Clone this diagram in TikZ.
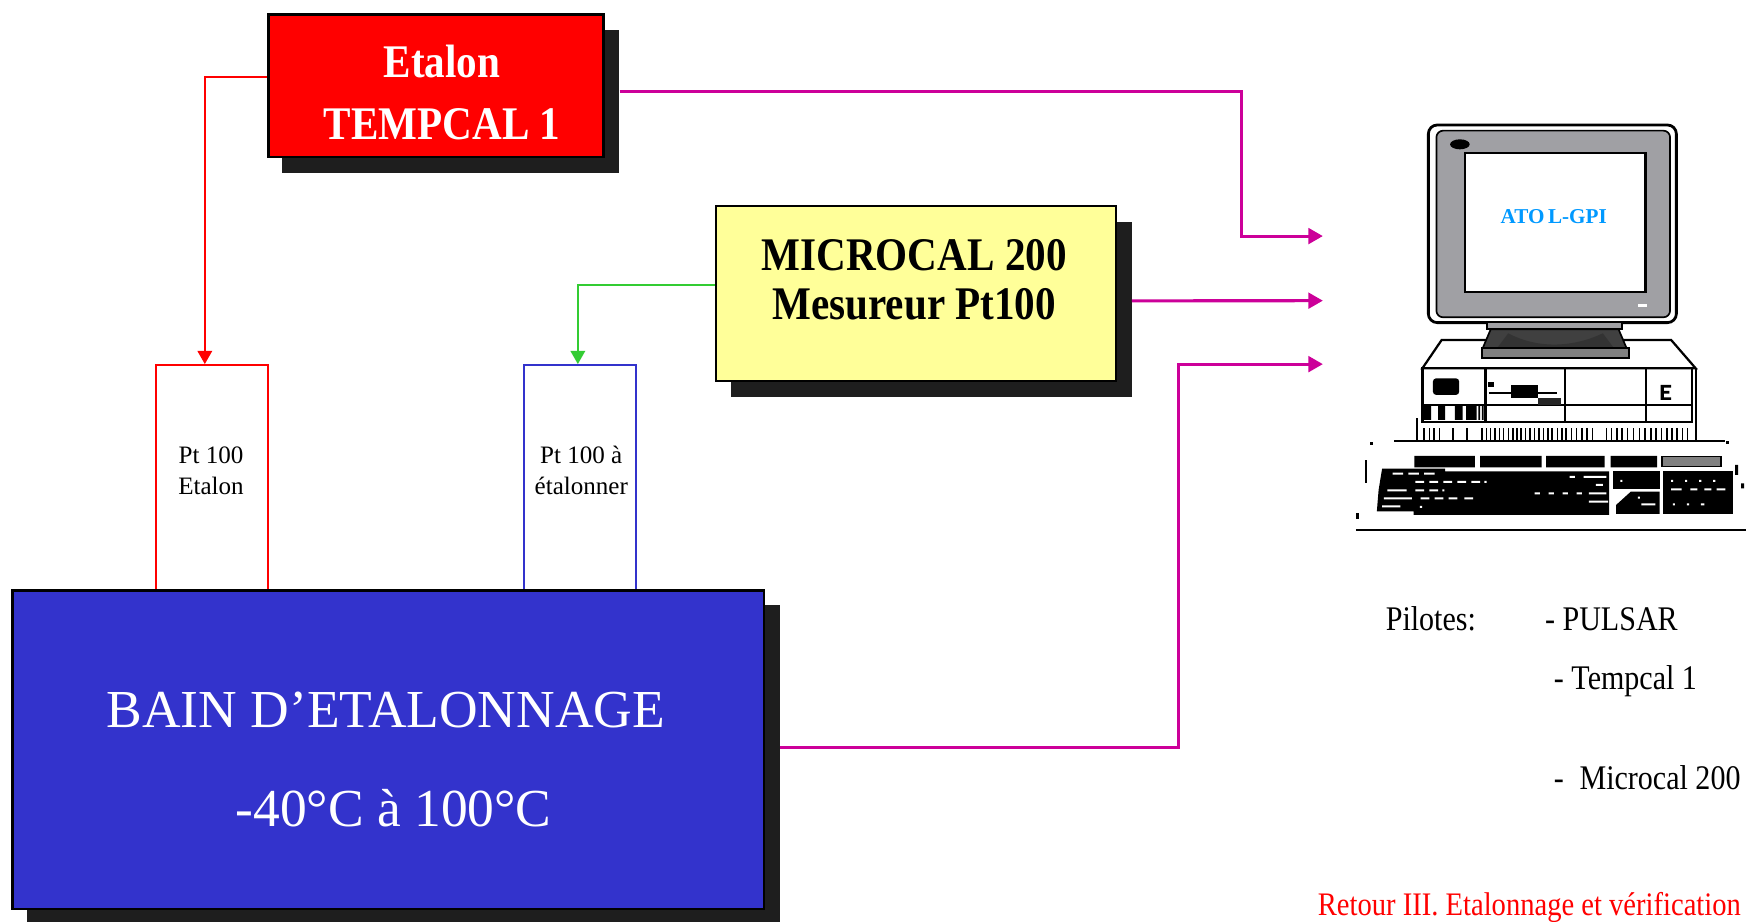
\documentclass[tikz,border=0pt]{standalone}
\usepackage{fontspec}
\setmainfont{Liberation Serif}
\newfontfamily\condserif[FakeStretch=0.88]{Liberation Serif}
\newfontfamily\nsserif[FakeStretch=0.87]{Liberation Serif}
\usetikzlibrary{arrows.meta}
\definecolor{shadowgray}{HTML}{1E1E1E}
\definecolor{magentaline}{HTML}{CC0099}
\definecolor{greenline}{HTML}{33CC33}
\definecolor{bainblue}{HTML}{3333CC}
\definecolor{paleyellow}{HTML}{FFFF99}
\definecolor{screenblue}{HTML}{0099FF}
\definecolor{monitorgray}{HTML}{A0A0A4}
\definecolor{standdark}{HTML}{404040}
\begin{document}
\begin{tikzpicture}[x=1pt,y=-1pt,
  box/.style={draw=black, line width=2.2pt, anchor=north west, inner sep=0pt},
  shadowbox/.style={fill=shadowgray, draw=none, anchor=north west, inner sep=0pt},
  probe/.style={line width=1.9pt, anchor=north west, inner sep=0pt, fill=white},
  bigbold/.style={anchor=base, font=\condserif\bfseries\fontsize{42}{42}\selectfont},
  bigreg/.style={anchor=base, text=white, font=\fontsize{48}{48}\selectfont},
  probetext/.style={anchor=base, font=\fontsize{22.5}{22.5}\selectfont},
  sidetext/.style={anchor=base west, font=\nsserif\fontsize{31}{31}\selectfont},
  link/.style={line width=2.8pt, -{Triangle[length=13pt,width=14pt]}},
  downlink/.style={line width=2.2pt, -{Triangle[length=12pt,width=13pt]}}]
\useasboundingbox (0,0) rectangle (1568,828);
\fill[white] (0,0) rectangle (1568,828);

% Etalon TEMPCAL
\node[shadowbox, minimum width=303pt, minimum height=128pt] (etalonsh) at (253,27) {};
\node[box, fill=red, minimum width=301pt, minimum height=128pt] (etalon) at (240,12) {};
\node[bigbold, text=white] (etalonA) at (397,70) {Etalon};
\node[bigbold, text=white] (etalonB) at (397,125) {TEMPCAL 1};

% MICROCAL
\node[shadowbox, minimum width=360pt, minimum height=157pt] (microsh) at (656,199) {};
\node[box, fill=paleyellow, minimum width=359pt, minimum height=157pt] (micro) at (642,184) {};
\node[bigbold] (microA) at (821,243) {MICROCAL 200};
\node[bigbold] (microB) at (821,287) {Mesureur Pt100};

% probes
\node[probe, draw=red, minimum width=101pt, minimum height=202pt] (probeE) at (139,327) {};
\node[probe, draw=bainblue, minimum width=100pt, minimum height=202pt] (probeX) at (470,327) {};
\node[probetext] (pe1) at (189.5,416) {Pt 100};
\node[probetext] (pe2) at (189.5,444) {Etalon};
\node[probetext] (px1) at (522,416) {Pt 100 à};
\node[probetext] (px2) at (522,444) {étalonner};

% Bain
\node[shadowbox, minimum width=676pt, minimum height=286pt] (bainsh) at (24,543) {};
\node[box, fill=bainblue, minimum width=675pt, minimum height=286pt] (bain) at (10,529) {};
\node[bigreg] (bainA) at (346.5,653) {BAIN D’ETALONNAGE};
\node[bigreg] (bainB) at (353.5,742) {-40°C à 100°C};

% arrow targets near the computer
\coordinate (pc1) at (1188,212);
\coordinate (pc2) at (1188,270);
\coordinate (pc3) at (1188,327);

% connectors
\draw[downlink, red] ([yshift=8pt]etalon.west) -| ([xshift=-6.5pt]probeE.north);
\draw[downlink, greenline] ([yshift=7.5pt]micro.west) -| ([xshift=-2pt]probeX.north);
\draw[link, magentaline] ([yshift=9pt]etalonsh.east) -| ([xshift=-73pt]pc1) -- (pc1);
\draw[link, magentaline] ([yshift=7.5pt]microsh.east) -- (pc2);
\draw[link, magentaline] ([yshift=15pt]bainsh.east) -| ([xshift=-130pt]pc3) -- (pc3);

% computer
\begin{scope}[shift={(1077.6,89.8)}, x=0.3146pt, y=-0.2993pt]
  % system unit top
  \draw[line width=2pt, fill=white] (690,720) -- (1345,720) -- (1415,805) -- (635,805) -- cycle;
  % monitor
  \draw[line width=2.5pt, fill=white, rounded corners=8pt] (652,75) rectangle (1360,668);
  \draw[line width=1.5pt, fill=monitorgray, rounded corners=6pt] (675,92) rectangle (1342,652);
  \draw[line width=2pt, fill=white] (757,160) rectangle (1272,577);
  \fill (742,133) ellipse [x radius=28, y radius=15];
  \fill[white] (1250,613) rectangle (1275,620);
  \node[font=\bfseries\fontsize{19}{19}\selectfont, text=screenblue] (atol) at (1010,350) {ATO\,L-GPI};
  % stand
  \draw[line width=1.5pt, fill=monitorgray] (820,668) rectangle (1205,688);
  \draw[line width=1.5pt, fill=standdark] (830,688) -- (1195,688) -- (1218,745) -- (807,745) -- cycle;
  \fill[black!80] (880,700) .. controls (960,745) and (1060,745) .. (1150,700) -- (1180,742) -- (850,742) -- cycle;
  \draw[line width=1.5pt, fill=gray] (805,745) rectangle (1225,775);
  % front panel
  \draw[line width=2pt] (635,805) rectangle (1405,965);
  \draw[line width=2pt] (1415,805) -- (1415,1022);
  \draw[line width=2pt] (815,805) -- (815,965) (1043,805) -- (1043,965) (1273,805) -- (1273,965);
  \draw[line width=2pt] (635,915) -- (1405,915);
  \fill[rounded corners=3pt] (665,835) rectangle (740,885);
  \fill (640,918) rectangle (660,960) (680,918) rectangle (700,960) (728,918) rectangle (750,960)
        (760,918) rectangle (790,960) (795,918) rectangle (800,960) (805,918) rectangle (810,960);
  \fill (822,845) rectangle (838,862);
  \draw[line width=1.5pt] (825,880) -- (1020,880);
  \fill (888,855) rectangle (965,893);
  \fill[black!85] (965,895) rectangle (1030,915);
  \fill (1315,855) rectangle (1324,900) (1315,855) rectangle (1345,863) (1315,873) rectangle (1340,881) (1315,892) rectangle (1345,900);
  % vents
  \draw[line width=2pt] (555,1022) -- (1500,1022);
  \draw[line width=1.5pt] (620,955) -- (620,1022);
  \foreach \c in {640,655,668,684,722,762,805,818,830,842,855,867,880,893,905,917,930,942,955,968,980,993,1005,1020,1033,1045,1060,1075,1090,1105,1120,1160,1175,1190,1205,1220,1238,1255,1270,1287,1302,1318,1333,1348,1362,1378,1392}
    \draw[line width=1.3pt] (\c,985) -- (\c,1022);
  \fill (486,1026) rectangle (494,1034);
  \fill (1502,1024) rectangle (1510,1032);
  % keyboard
  \fill (612,1068) rectangle (785,1102) (800,1068) rectangle (975,1102) (988,1068) rectangle (1155,1102) (1172,1068) rectangle (1305,1102);
  \draw[line width=1.5pt, fill=gray] (1318,1070) rectangle (1488,1100);
  \fill (520,1106) -- (700,1106) -- (700,1114) -- (1168,1114) -- (1168,1245) -- (610,1245) -- (610,1234) -- (505,1234) -- (510,1170) -- cycle;
  \fill[white] (550,1118) rectangle (580,1124) (595,1118) rectangle (625,1124) (640,1118) rectangle (670,1124)
    (615,1143) rectangle (640,1149) (655,1143) rectangle (680,1149) (695,1143) rectangle (720,1149) (735,1143) rectangle (760,1149) (775,1143) rectangle (800,1149) (812,1143) rectangle (818,1149)
    (535,1168) rectangle (590,1174) (615,1168) rectangle (640,1174) (655,1168) rectangle (680,1174) (692,1168) rectangle (698,1174)
    (525,1192) rectangle (605,1198) (630,1192) rectangle (655,1198) (670,1192) rectangle (695,1198) (710,1192) rectangle (735,1198) (755,1192) rectangle (780,1198)
    (520,1216) rectangle (572,1222) (628,1218) rectangle (634,1224)
    (1055,1128) rectangle (1070,1134) (1095,1128) rectangle (1160,1134) (1130,1152) rectangle (1150,1158)
    (955,1177) rectangle (970,1183) (995,1177) rectangle (1010,1183) (1035,1177) rectangle (1050,1183) (1075,1177) rectangle (1090,1183) (1110,1177) rectangle (1160,1183)
    (1110,1202) rectangle (1165,1208);
  \fill (1178,1112) rectangle (1312,1168);
  \fill (1188,1215) -- (1230,1175) -- (1312,1175) -- (1312,1242) -- (1188,1242) -- cycle;
  \fill[white] (1200,1140) rectangle (1206,1146) (1250,1190) rectangle (1256,1196) (1260,1210) rectangle (1300,1216);
  \fill (1323,1112) rectangle (1522,1242);
  \fill[white] (1345,1140) rectangle (1351,1146) (1385,1140) rectangle (1391,1146) (1425,1140) rectangle (1431,1146) (1465,1140) rectangle (1471,1146)
    (1345,1165) rectangle (1375,1171) (1400,1165) rectangle (1420,1171) (1440,1165) rectangle (1460,1171) (1475,1165) rectangle (1500,1171)
    (1350,1210) rectangle (1356,1216) (1390,1210) rectangle (1396,1216) (1430,1210) rectangle (1440,1216);
  \fill (470,1080) rectangle (478,1150);
  \fill (1528,1095) rectangle (1536,1125) (1545,1150) rectangle (1553,1165);
  \fill (445,1240) rectangle (453,1258);
  \draw[line width=2.5pt] (445,1290) -- (1620,1290);
\end{scope}

% side text
\node[sidetext] (pil) at (1241,566) {Pilotes:};
\node[sidetext] (pul) at (1384,566) {- PULSAR};
\node[sidetext] (tmp) at (1392,619) {- Tempcal 1};
\node[sidetext] (mic) at (1392,709) {-\hspace{14pt}Microcal 200};
\node[sidetext, font=\nsserif\fontsize{29.5}{29.5}\selectfont, text=red] (ret) at (1180,822) {Retour III. Etalonnage et vérification};
\end{tikzpicture}
\end{document}
